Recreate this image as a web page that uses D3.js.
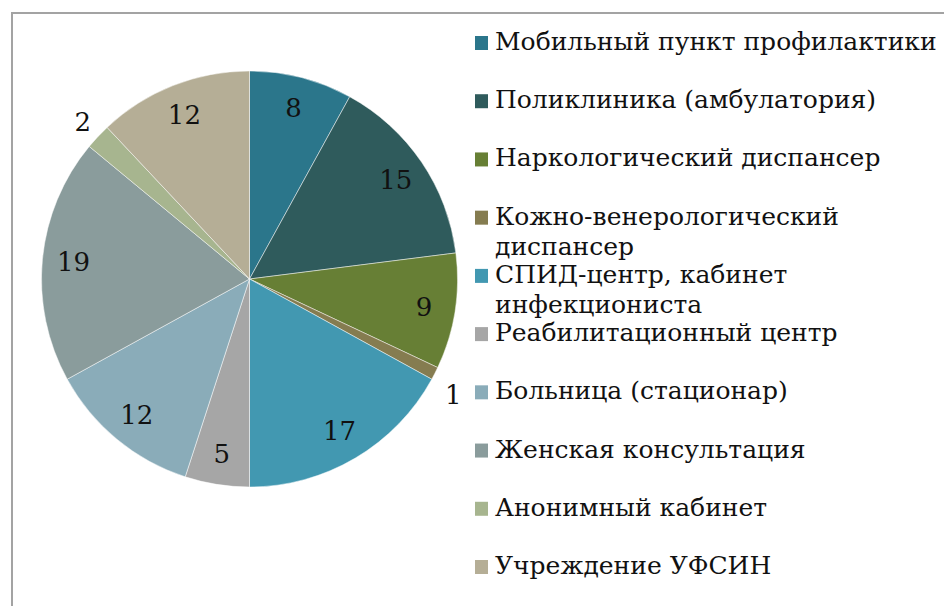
<!DOCTYPE html>
<html>
<head>
<meta charset="utf-8">
<script src="https://cdn.jsdelivr.net/npm/d3@7"></script>
<style>
  body { margin: 0; background: #fff; }
  svg { display: block; }
  .legend text { font-family: 'DejaVu Serif', 'Liberation Serif', serif; font-size: 25px; fill: #111; }
  .label { font-family: 'DejaVu Serif', 'Liberation Serif', serif; font-size: 26px; fill: #111; }
</style>
</head>
<body>
<svg width="944" height="606"></svg>
<script>
// categories (legend order = slice order, clockwise from 12 o'clock)
var categories = [
    'Мобильный пункт профилактики',
    'Поликлиника (амбулатория)',
    'Наркологический диспансер',
    'Кожно-венерологический\nдиспансер',
    'СПИД-центр, кабинет\nинфекциониста',
    'Реабилитационный центр',
    'Больница (стационар)',
    'Женская консультация',
    'Анонимный кабинет',
    'Учреждение УФСИН'
];
var values = [8, 15, 9, 1, 17, 5, 12, 19, 2, 12];
var colors = ['#2b768b', '#2f5b5c', '#677f35', '#857c50', '#4298b1',
              '#a6a6a6', '#8aacb9', '#8a9c9c', '#a7b58f', '#b5ae96'];

var svg = d3.select('svg');

// frame (only left + top edges visible in the picture)
svg.append('rect')
    .attr('x', 12).attr('y', 13)
    .attr('width', 1000).attr('height', 1000)
    .attr('fill', 'none')
    .attr('stroke', '#a3a3a3')
    .attr('stroke-width', 2);

var cx = 249.5, cy = 279, radius = 208;

var pie = d3.pie().sort(null).value(function(d) { return d; });
var arcs = pie(values);
var arc = d3.arc().innerRadius(0).outerRadius(radius);
var labelArc = d3.arc().innerRadius(radius * 0.85).outerRadius(radius * 0.85);
var outArc = d3.arc().innerRadius(radius * 1.1).outerRadius(radius * 1.1);

var pieG = svg.append('g')
    .attr('transform', 'translate(' + cx + ',' + cy + ')');

pieG.selectAll('path')
    .data(arcs)
    .enter()
    .append('path')
    .attr('d', arc)
    .attr('fill', function(d, i) { return colors[i]; })
    .attr('stroke', '#ffffff')
    .attr('stroke-opacity', 0.6)
    .attr('stroke-width', 0.8);

pieG.selectAll('.label')
    .data(arcs)
    .enter()
    .append('text')
    .attr('class', 'label')
    .attr('transform', function(d) {
        var a = d.value <= 2 ? outArc : labelArc;
        var p = a.centroid(d);
        // small slices: nudge the outside label a little lower, like the original
        if (d.value === 1) p[1] += 12;
        return 'translate(' + p + ')';
    })
    .attr('text-anchor', 'middle')
    .attr('dy', '0.35em')
    .text(function(d) { return d.value; });

// legend
var legendG = svg.append('g').attr('class', 'legend');
var rowY = d3.scaleLinear().domain([0, 9]).range([50, 574]);

var item = legendG.selectAll('g')
    .data(categories)
    .enter()
    .append('g')
    .attr('transform', function(d, i) { return 'translate(475,' + rowY(i) + ')'; });

item.append('rect')
    .attr('x', 0).attr('y', -14)
    .attr('width', 13).attr('height', 14)
    .attr('fill', function(d, i) { return colors[i]; });

item.append('text')
    .attr('x', 20)
    .selectAll('tspan')
    .data(function(d) { return d.split('\n'); })
    .enter()
    .append('tspan')
    .attr('x', 20)
    .attr('y', function(d, i) { return i * 30; })
    .text(function(d) { return d; });
</script>
</body>
</html>
